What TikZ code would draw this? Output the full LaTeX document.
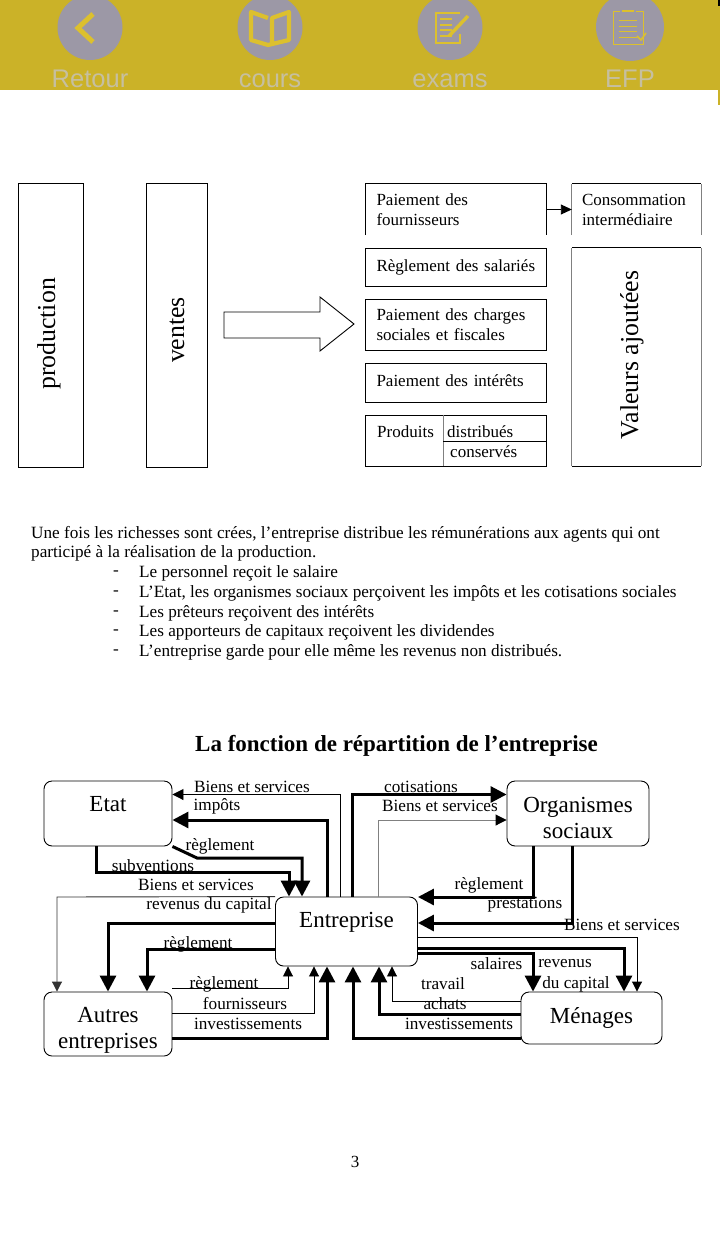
\documentclass[tikz,border=0pt]{standalone}
\usepackage{fontspec}
\usepackage{xcolor}
\setmainfont{Liberation Serif}
\newfontfamily\appfont{Liberation Sans}
\usetikzlibrary{arrows.meta}
\definecolor{barcol}{HTML}{CBB228}
\definecolor{disccol}{HTML}{9C98A6}
\definecolor{apptext}{HTML}{C6BFA0}
\definecolor{iconcol}{HTML}{DCC02E}
\newcommand{\fsz}[2]{\fontsize{#1}{#2}\selectfont}
\newcommand{\drop}[1]{\rule{0pt}{#1}}
\tikzset{
  disc/.style={circle, fill=disccol, minimum size=65pt, inner sep=0},
  apptxt/.style={anchor=base, text=apptext, font=\appfont\fsz{25.5}{28}},
  tallbox/.style={draw, minimum height=284pt, inner sep=0, line width=0.9pt},
  tallfont/.style={rotate=90, inner sep=0, font=\fsz{25.8}{30}},
  paybox/.style={draw, minimum width=181pt, inner xsep=11pt, inner ysep=0, text width=159pt, align=left, line width=0.9pt, font=\fsz{17}{20}},
  plainbox/.style={inner xsep=11pt, inner ysep=0, align=left, font=\fsz{17}{20}},
  para/.style={anchor=west, inner sep=0, font=\fsz{17.2}{20}},
  actor/.style={draw, rounded corners=8pt, inner sep=0, align=center, line width=0.9pt, font=\fsz{23}{26}},
  lab/.style={inner sep=0, font=\fsz{17.2}{20}},
  bigflow/.style={line width=3pt, -{Triangle[length=16pt,width=16pt]}},
  midflow/.style={line width=0.9pt, -{Triangle[length=11pt,width=11pt]}},
  smallflow/.style={line width=0.9pt, -{Triangle[length=10pt,width=10pt]}}
}
\begin{document}
\begin{tikzpicture}[x=1pt,y=-1pt]
\useasboundingbox[fill=white] (0,0) rectangle (720,1238);

% App bar
\fill[barcol] (0,0) rectangle (720,90);
\fill[barcol] (718,90) rectangle (720,105);
\fill[black] (718,0) rectangle (720,6);
\begin{scope}
\clip (0,0) rectangle (720,90);
\node[disc] (retour) at (90,27.5) {};
\node[disc] (cours) at (270,27.5) {};
\node[disc] (exams) at (450,27.5) {};
\node[disc,minimum size=68pt] (efp) at (630,27) {};
\node[apptxt] (retourtxt) at (90,87.5) {Retour};
\node[apptxt] (courstxt) at (270,87.5) {cours};
\node[apptxt] (examstxt) at (450,87.5) {exams};
\node[apptxt] (efptxt) at (630,87.5) {EFP};
\end{scope}

% Icons of the app bar
\draw[iconcol, line width=5pt] (93,14) -- (78,28) -- (93,42);
\draw[iconcol, line width=4.2pt, line join=round] (268,18) -- (251,12) -- (251,40) -- (268,45) -- (289,40) -- (289,12) -- (272,18) -- (272,44);
\draw[iconcol, line width=1.6pt] (460,13) -- (436,13) -- (436,43) -- (460,43) -- (460,34);
\foreach \yy in {19,25,30,36} {
  \draw[iconcol, line width=1.2pt] (440,\yy) -- (452,\yy);
}
\draw[iconcol, line width=3.4pt] (449,36) -- (468,16);
\draw[iconcol, line width=1pt] (620,12) -- (613,12) -- (613,45) -- (643,45) -- (643,12) -- (636,12);
\draw[iconcol, line width=2.2pt] (622,11) -- (634,11);
\foreach \yy in {20,26,31,37} {
  \draw[iconcol, line width=0.9pt] (619,\yy) -- (637,\yy);
}
\draw[iconcol, line width=1.6pt] (637,36) -- (641,40) -- (646,33);

% Production and sales
\node[tallbox, minimum width=65pt] (prod) at (50.5,325) {};
\node[tallfont] (prodtxt) at (49,334) {production};
\node[tallbox, minimum width=61pt] (ventes) at (176.5,325) {};
\node[tallfont] (ventestxt) at (177,330) {ventes};
\draw[line width=0.9pt] (224,312) -- (320,312) -- (320,297) -- (354,324) -- (320,351) -- (320,338) -- (224,338) -- cycle;

% Payments
\node[plainbox, text width=159pt, minimum width=181pt, minimum height=51pt] (pay) at (456,209.5) {Paiement des\\fournisseurs};
\draw[line width=0.9pt] (pay.south west) |- (pay.north east) -- (pay.south east);
\node[plainbox, inner xsep=10pt, text width=109pt, minimum width=129pt, minimum height=51pt] (conso) at (636.5,209.5) {Consommation\\intermédiaire};
\draw[gray, line width=0.7pt] (conso.south west) -- (conso.north west);
\draw[gray, line width=0.7pt] (conso.south east) -- (conso.north east);
\draw[line width=0.9pt] (conso.north west) -- (conso.north east);
\node[paybox, minimum height=38pt] (sal) at (456,267) {\raisebox{3pt}{Règlement des salariés}};
\node[paybox, minimum height=51pt] (charges) at (456,325) {Paiement des charges\\sociales et fiscales};
\node[paybox, minimum height=39pt] (inter) at (456,382.5) {\raisebox{3pt}{Paiement des intérêts}};
\node[paybox, minimum height=51pt] (prodbox) at (456,440.5) {};
\node[plainbox, anchor=west, inner xsep=0] (produits) at (377,431.5) {Produits};
\node[plainbox, anchor=west, inner xsep=0] (distr) at (447,431.5) {distribués};
\node[plainbox, anchor=west, inner xsep=0] (cons) at (450,452) {conservés};
\draw[gray, line width=0.7pt] (443,0 |- prodbox.north) -- (443,0 |- prodbox.south);
\draw[line width=0.9pt] (443,441) -- (prodbox.east |- 0,441);
\node[minimum width=129pt, minimum height=218pt, inner sep=0] (valeurs) at (636.5,357) {};
\node[tallfont] (valeurstxt) at (632,355) {Valeurs ajoutées};
\draw[gray, line width=0.7pt] (valeurs.south west) -- (valeurs.north west);
\draw[gray, line width=0.7pt] (valeurs.south east) -- (valeurs.north east);
\draw[line width=0.9pt] (valeurs.north west) -- (valeurs.north east);
\draw[line width=0.9pt] (valeurs.south west) -- (valeurs.south east);
\draw[line width=0.9pt, -{Triangle[length=11pt,width=10pt]}] (pay.east) -- (conso.west);

% Paragraph
\node[para] (line1) at (31,534.5) {Une fois les richesses sont crées, l’entreprise distribue les rémunérations aux agents qui ont};
\node[para] (line2) at (31,553.5) {participé à la réalisation de la production.};
\node[para] (dash1) at (113,573.5) {-};
\node[para] (item1) at (139,573.5) {Le personnel reçoit le salaire};
\node[para] (dash2) at (113,593.5) {-};
\node[para] (item2) at (139,593.5) {L’Etat, les organismes sociaux perçoivent les impôts et les cotisations sociales};
\node[para] (dash3) at (113,613.5) {-};
\node[para] (item3) at (139,613.5) {Les prêteurs reçoivent des intérêts};
\node[para] (dash4) at (113,632.5) {-};
\node[para] (item4) at (139,632.5) {Les apporteurs de capitaux reçoivent les dividendes};
\node[para] (dash5) at (113,652.5) {-};
\node[para] (item5) at (139,652.5) {L’entreprise garde pour elle même les revenus non distribués.};

% Title
\node[inner sep=0, font=\bfseries\fsz{23}{26}] (title) at (396.5,746) {La fonction de répartition de l’entreprise};

% Actors
\node[actor, minimum width=128pt, minimum height=65pt] (etat) at (108,813.5) {\drop{22pt}Etat\\\mbox{}};
\node[actor, minimum width=142pt, minimum height=65pt] (org) at (578,813.5) {\drop{24pt}Organismes\\sociaux};
\node[actor, minimum width=142pt, minimum height=69pt] (ent) at (346.5,931.5) {\drop{18pt}Entreprise\\\mbox{}};
\node[actor, minimum width=128pt, minimum height=64pt] (autres) at (108,1024) {\drop{28pt}Autres\\entreprises};
\node[actor, minimum width=141pt, minimum height=52pt] (men) at (591.5,1018) {Ménages};

% Flows around Etat
\draw[midflow] (340,0 |- ent.north) -- (340,794.5) -- (etat.east |- 0,794.5);
\draw[bigflow] (327,0 |- ent.north) -- (327,820) -- (etat.east |- 0,820);
\draw[bigflow] (etat.south east) -- (197,858) -- (302,858) -- (302,0 |- ent.north);
\draw[bigflow] (96,0 |- etat.south) -- (96,872) -- (289,872) -- (289,0 |- ent.north);

% Flows around Organismes sociaux
\draw[bigflow] (352,0 |- ent.north) -- (352,794.5) -- (org.west |- 0,794.5);
\draw[midflow, draw=gray, -{Triangle[length=11pt,width=11pt,black]}] (378,0 |- ent.north) -- (378,820) -- (org.west |- 0,820);
\draw[bigflow] (533,0 |- org.south) -- (533,897) -- (ent.east |- 0,897);
\draw[bigflow] (572,0 |- org.south) -- (572,923) -- (ent.east |- 0,923);

% Flows towards Autres entreprises
\draw[smallflow, draw=black!80] (ent.north west) -- (57,897) -- (57,0 |- autres.north);
\draw[bigflow] (ent.west |- 0,923) -- (108,923) -- (108,0 |- autres.north);
\draw[bigflow] (ent.west |- 0,949) -- (147,949) -- (147,0 |- autres.north);

% Flows from Autres entreprises
\draw[smallflow] (autres.east |- 0,988) -- (288,988) -- (288,0 |- ent.south);
\draw[smallflow] (autres.east |- 0,1013) -- (314,1013) -- (314,0 |- ent.south);
\draw[bigflow] (autres.east |- 0,1038) -- (327,1038) -- (327,0 |- ent.south);

% Flows towards Menages
\draw[smallflow] (ent.east |- 0,937) -- (637,937) -- (637,0 |- men.north);
\draw[bigflow] (ent.east |- 0,948) -- (624,948) -- (624,0 |- men.north);
\draw[bigflow] (ent.east |- 0,953) -- (533,953) -- (533,0 |- men.north);

% Flows from Menages
\draw[bigflow] (men.west |- 0,1038) -- (353,1038) -- (353,0 |- ent.south);
\draw[bigflow] (men.west |- 0,1014) -- (379,1014) -- (379,0 |- ent.south);
\draw[smallflow] (men.west |- 0,1001) -- (392,1001) -- (392,0 |- ent.south);

% Labels of the flows
\node[lab] (lbiens1) at (252,787) {Biens et services};
\node[lab] (limpots) at (217,806) {impôts};
\node[lab] (lregl1) at (220,846) {règlement};
\node[lab] (lsubv) at (153,866) {subventions};
\node[lab] (lbiens2) at (196,885) {Biens et services};
\node[lab] (lrev1) at (209,905) {revenus du capital};
\node[lab] (lcotis) at (421,787) {cotisations};
\node[lab] (lbiens3) at (440,806) {Biens et services};
\node[lab] (lregl2) at (489,885) {règlement};
\node[lab] (lprest) at (525,905) {prestations};
\node[lab] (lbiens4) at (622,925) {Biens et services};
\node[lab] (lregl3) at (198,944) {règlement};
\node[lab] (lregl4) at (224,984) {règlement};
\node[lab] (lfourn) at (245,1004) {fournisseurs};
\node[lab] (linv1) at (248,1024) {investissements};
\node[lab] (lsal) at (496.5,964) {salaires};
\node[lab] (lrev2) at (565,964) {revenus};
\node[lab] (ldu) at (576,984) {du capital};
\node[lab] (ltrav) at (443,984) {travail};
\node[lab] (lach) at (445,1004) {achats};
\node[lab] (linv2) at (459,1024) {investissements};

% Page number
\node[inner sep=0, font=\fsz{17}{20}] (page) at (355,1162) {3};
\end{tikzpicture}
\end{document}
